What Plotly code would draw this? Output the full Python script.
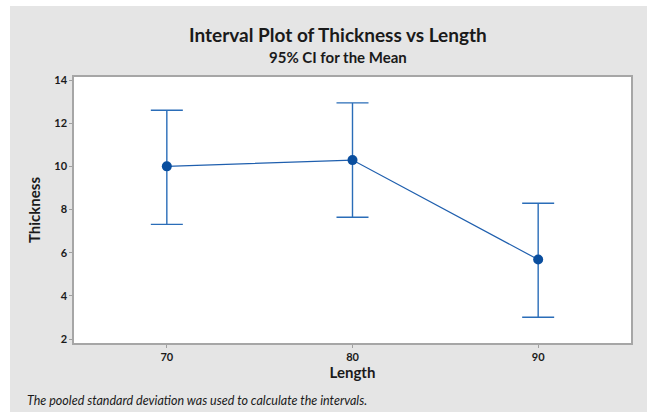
import plotly.graph_objects as go

lengths = [70, 80, 90]
means = [10.0, 10.29, 5.68]
upper = [12.60, 12.94, 8.29]
lower = [7.31, 7.64, 3.01]
y_ticks = [2, 4, 6, 8, 10, 12, 14]
x_ticks = [70, 80, 90]

err_plus = [u - m for u, m in zip(upper, means)]
err_minus = [m - l for m, l in zip(means, lower)]

W, H = 647, 412
L, R, T, B = 74, 16, 77, 69
pw, ph = W - L - R, H - T - B

FONT = "Lato"
fig = go.Figure()
fig.add_trace(go.Scatter(
    x=lengths, y=means, mode="lines+markers",
    line=dict(color="#1f5fae", width=1.2),
    marker=dict(color="#0a4e9e", size=10),
    error_y=dict(type="data", symmetric=False, array=err_plus, arrayminus=err_minus,
                 color="#2a6db8", thickness=1.4, width=16),
    showlegend=False,
))

fig.update_layout(
    width=W, height=H,
    margin=dict(l=L, r=R, t=T, b=B),
    paper_bgcolor="#e5e5e5",
    plot_bgcolor="white",
    font=dict(family=FONT, color="#1a1a1a"),
    xaxis=dict(range=[65, 95], tickvals=x_ticks, ticks="outside", ticklen=3,
               tickcolor="#a0a0a0", showgrid=False, zeroline=False,
               showline=True, linecolor="#a6a6a6", linewidth=1.5, mirror=True,
               tickfont=dict(size=11, family=FONT, weight="bold"),
               title=dict(text="<b>Length</b>", font=dict(size=15, family=FONT), standoff=5)),
    yaxis=dict(range=[1.815, 14.14], tickvals=y_ticks, ticks="outside", ticklen=3,
               tickcolor="#a0a0a0", showgrid=False, zeroline=False,
               showline=True, linecolor="#a6a6a6", linewidth=1.5, mirror=True,
               tickfont=dict(size=11, family=FONT, weight="bold"),
               title=dict(text="<b>Thickness</b>", font=dict(size=15, family=FONT), standoff=10)),
    shapes=[
        dict(type="rect", xref="paper", yref="paper", layer="above",
             x0=-L / pw, x1=(10 - L) / pw, y0=-B / ph, y1=1 + T / ph,
             fillcolor="white", line=dict(width=0)),
        dict(type="rect", xref="paper", yref="paper", layer="above",
             x0=-L / pw, x1=1 + R / pw, y0=1 + (T - 6) / ph, y1=1 + T / ph,
             fillcolor="white", line=dict(width=0)),
    ],
    annotations=[
        dict(text="<b>Interval Plot of Thickness vs Length</b>", xref="paper", yref="paper",
             x=(338 - L) / pw, y=1 + (T - 34) / ph, xanchor="center", yanchor="middle",
             showarrow=False, font=dict(size=19, family=FONT, color="#1a1a1a")),
        dict(text="<b>95% CI for the Mean</b>", xref="paper", yref="paper",
             x=(338 - L) / pw, y=1 + (T - 57) / ph, xanchor="center", yanchor="middle",
             showarrow=False, font=dict(size=15, family=FONT, color="#1a1a1a")),
        dict(text="<i>The pooled standard deviation was used to calculate the intervals.</i>",
             xref="paper", yref="paper", x=(25 - L) / pw, y=-(400 - (H - B)) / ph,
             xanchor="left", yanchor="middle", showarrow=False,
             font=dict(size=12.5, family=FONT, color="#1a1a1a")),
    ],
)

fig.write_html("out.html", config={"displayModeBar": False},
               post_script="document.body.style.margin='0';document.body.style.overflow='hidden';")
